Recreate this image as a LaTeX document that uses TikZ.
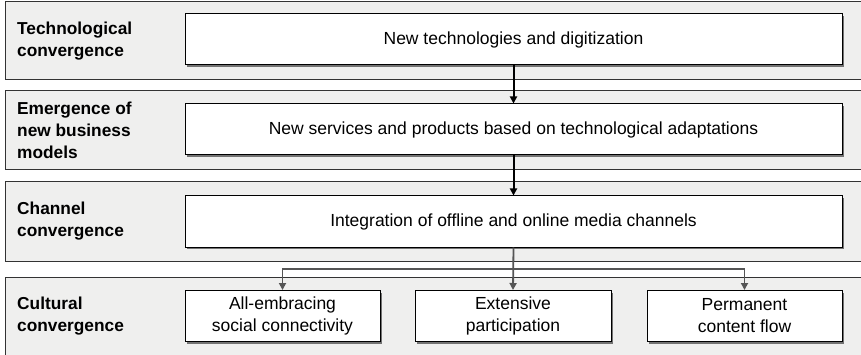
\documentclass[tikz,border=0pt]{standalone}
\usepackage{fontspec}
\setmainfont{Liberation Sans}
\usetikzlibrary{arrows.meta,shadows}

\definecolor{bandgray}{HTML}{EFEFEE}
\definecolor{linegray}{HTML}{555555}

\tikzset{
  band/.style={draw=black!80, line width=1pt},
  level/.style={anchor=west, inner sep=0pt, align=left, font=\fontsize{17.3}{22}\selectfont\bfseries},
  stage/.style={draw, fill=white, line width=1pt, minimum height=51pt, inner sep=0pt,
    font=\fontsize{17.5}{22}\selectfont, align=center,
    drop shadow={shadow xshift=2pt, shadow yshift=-2pt, fill=black!55, opacity=1}},
  flow/.style={line width=2pt, -{Triangle[length=7pt,width=7pt]}},
  gflow/.style={draw=linegray, line width=1.8pt, -{Triangle[length=7pt,width=7pt,fill=linegray]}},
}

\begin{document}
\begin{tikzpicture}[x=1pt,y=-1pt]
    \useasboundingbox (0,0) rectangle (861,355);

    % Band 1: technological convergence
    \fill[bandgray] (5,2) rectangle (861,80);
    \draw[band] (861,2) -- (5,2) -- (5,80) -- (861,80);
    \node[level] (lvtech) at (17,41) {Technological\\convergence};
    \node[stage, minimum width=657pt] (tech) at (513.5,39.5) {New technologies and digitization};

    % Band 2: new business models
    \fill[bandgray] (5,91) rectangle (861,170);
    \draw[band] (861,91) -- (5,91) -- (5,170) -- (861,170);
    \node[level] (lvbiz) at (17,130) {Emergence of\\new business\\models};
    \node[stage, minimum width=657pt] (biz) at (513.5,129.5) {New services and products based on technological adaptations};

    % Band 3: channel convergence
    \fill[bandgray] (5,182) rectangle (861,261);
    \draw[band] (861,182) -- (5,182) -- (5,261) -- (861,261);
    \node[level] (lvchan) at (17,221) {Channel\\convergence};
    \node[stage, minimum width=657pt] (chan) at (513.5,221.5) {Integration of offline and online media channels};

    % Band 4: cultural convergence
    \fill[bandgray] (5,277) rectangle (861,356);
    \draw[band] (861,277) -- (5,277) -- (5,356);
    \node[level] (lvcult) at (17,316) {Cultural\\convergence};
    \node[stage, minimum width=195pt] (social) at (282.5,316) {All-embracing\\social connectivity};
    \node[stage, minimum width=196pt] (part) at (513,316) {Extensive\\participation};
    \node[stage, minimum width=195pt] (content) at (744.5,316) {Permanent\\content flow};

    % Arrows
    \draw[flow] (tech) -- (biz);
    \draw[flow] (biz) -- (chan);
    \coordinate (split) at (513,269);
    \draw[gflow] (chan.south) -- (part.north);
    \draw[gflow] (split) -| (social.north);
    \draw[gflow] (split) -| (content.north);
\end{tikzpicture}
\end{document}
